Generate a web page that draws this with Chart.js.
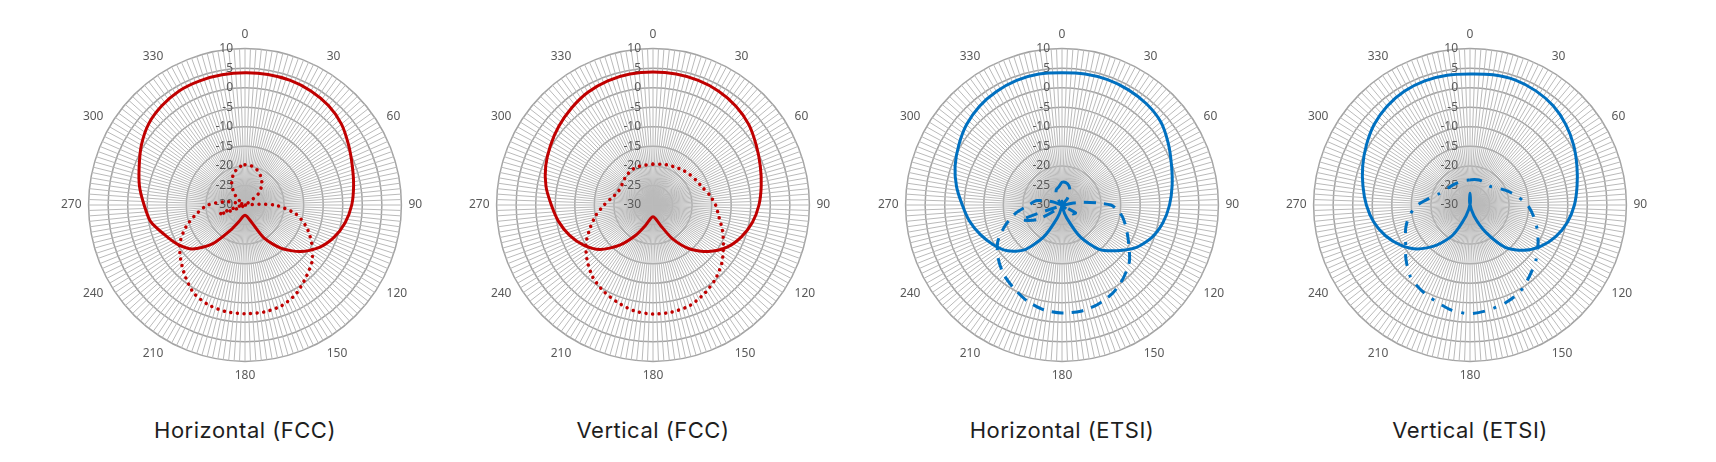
<!DOCTYPE html>
<html>
<head>
<meta charset="utf-8">
<script src="https://cdn.jsdelivr.net/npm/chart.js@4.4.1/dist/chart.umd.min.js"></script>
<style>
    html, body { margin: 0; padding: 0; background: #fff; }
    body { width: 1716px; height: 462px; position: relative; overflow: hidden; }
    .polar { position: absolute; width: 368px; height: 368px; }
    .titulo {
        position: absolute; width: 300px; text-align: center; top: 417px;
        font-family: "Inter", sans-serif; font-size: 22px; line-height: 26px; letter-spacing: 0.5px; color: #1e1e1e;
    }
</style>
</head>
<body>
<div class="polar" id="caja0"><canvas id="grafica0" width="368" height="368"></canvas></div>
<div class="polar" id="caja1"><canvas id="grafica1" width="368" height="368"></canvas></div>
<div class="polar" id="caja2"><canvas id="grafica2" width="368" height="368"></canvas></div>
<div class="polar" id="caja3"><canvas id="grafica3" width="368" height="368"></canvas></div>
<div class="titulo" id="titulo0"></div>
<div class="titulo" id="titulo1"></div>
<div class="titulo" id="titulo2"></div>
<div class="titulo" id="titulo3"></div>
<script>
// angles where the curves were read (degrees, clockwise from top)
const angulos = [0, 10, 20, 30, 40, 50, 60, 70, 80, 90, 100, 110, 120, 130, 140, 150, 160, 170,
    180, 190, 200, 210, 220, 230, 240, 250, 260, 270, 280, 290, 300, 310, 320, 330, 340, 350];
const etiquetasAngulo = [0, 30, 60, 90, 120, 150, 180, 210, 240, 270, 300, 330];
const ticksRadio = [10, 5, 0, -5, -10, -15, -20, -25, -30];
const titulos = ["Horizontal (FCC)", "Vertical (FCC)", "Horizontal (ETSI)", "Vertical (ETSI)"];

// #region Datos (dB)
const horizontalFcc = [3.8, 3.9, 3.9, 3.7, 3.2, 2.2, 0.6, -0.8, -1.8, -2.7, -4.0, -5.8, -8.2, -11.5, -15.5, -20.2, -25.5, -27,
    -27.4, -27, -25.5, -22.5, -17, -12.5, -10, -8, -5.5, -4.2, -2.6, -1.2, 0.6, 2.2, 3.1, 3.7, 3.8, 3.8];
const horizontalFccCruzada = [-19.7, -19.9, -20.6, -21.8, -23.3, -25.5, -30.5, -37, -31, -22.5, -16.8, -13.2, -10.3, -7.6, -5.8, -3.8, -2.6, -2.2,
    -2.2, -2.3, -2.8, -3.9, -6.2, -8.5, -10.8, -14, -17.5, -20.5, -25, -29, -29.5, -27.5, -25.3, -23.2, -21.5, -20.3];

const verticalFcc = [4.0, 4.0, 3.9, 3.6, 3.0, 2.0, 0.5, -0.8, -1.9, -2.9, -4.2, -6.0, -8.3, -11.5, -15.3, -20, -24.5, -26.5,
    -27, -26.5, -24.5, -21, -16.5, -12.3, -9.5, -7.3, -5.5, -4.0, -2.2, -0.8, 0.3, 1.4, 2.4, 3.3, 3.8, 4.0];
const verticalFccCruzada = [-19.6, -19.4, -19.1, -18.8, -18.3, -17.8, -17.3, -16.6, -15.3, -14.0, -12.9, -11.1, -9.2, -7.0, -5.2, -3.8, -2.6, -2.2,
    -2.1, -2.5, -3.5, -4.6, -6.0, -8.0, -10.2, -12.9, -15.2, -17.5, -19.3, -20.4, -20.6, -20.2, -19.8, -19.5, -19.5, -19.6];

const horizontalEtsi = [3.8, 4.0, 4.1, 4.0, 3.7, 3.0, 1.4, -0.2, -1.4, -2.5, -3.8, -5.6, -8.2, -11.8, -15.2, -20.5, -26.5, -29.5,
    -31, -29.5, -26.5, -20.5, -15, -11.8, -9.7, -7.8, -6.0, -4.5, -2.6, -0.9, 0.5, 1.9, 2.9, 3.5, 3.9, 4.0];
const horizontalEtsiCruzada = [-24.2, -24.2, -24.8, -26, -28, -31.5, -37.5, -41, -27, -17.5, -14.5, -12.5, -10.3, -7.5, -5.6, -4.0, -3.0, -2.4,
    -2.4, -2.8, -3.9, -5.4, -6.8, -8.7, -11.0, -14.5, -18, -21.5, -23.5, -28, -34, -33.5, -29.5, -27, -25.8, -25.3];

const verticalEtsi = [3.5, 3.8, 4.0, 3.7, 3.1, 2.0, 0.6, -0.9, -2.2, -3.3, -4.7, -6.6, -9.0, -12.0, -15.8, -22, -27, -30.5,
    -33, -30.5, -27, -21, -16.5, -12.5, -9.5, -7.0, -5.0, -3.5, -2.2, -0.8, 0.6, 2.0, 3.0, 3.6, 3.8, 3.7];
const verticalEtsiCruzada = [-23.6, -23.4, -23.2, -23.2, -23.2, -22.8, -21.5, -19.7, -17.6, -15.3, -13.5, -11.7, -9.9, -8.0, -6.3, -4.4, -3.4, -2.7,
    -2.2, -2.7, -3.9, -4.9, -6.2, -8.6, -11.0, -12.5, -14.2, -16.6, -19.6, -21.6, -22.5, -23.0, -23.3, -23.5, -23.6, -23.6];

const rojo = "#c00000";
const azul = "#0070c0";

// one category every 2 degrees, so the spokes are as dense as in the original
const grados = [];
for (let i = 0; i < 360; i += 2) {
    grados.push(i);
}

function porGrado(valores) {
    const serie = new Array(grados.length).fill(null);
    angulos.forEach((a, i) => { serie[grados.indexOf(a)] = valores[i]; });
    return serie;
}

// radial tick labels sit left of the vertical axis
const etiquetasRadio = {
    id: "etiquetasRadio",
    beforeDatasetsDraw(chart) {
        const r = chart.scales.r;
        const ctx = chart.ctx;
        ctx.save();
        ctx.font = '12px "Noto Sans", sans-serif';
        ctx.fillStyle = "#595959";
        ctx.textAlign = "right";
        ctx.textBaseline = "middle";
        ticksRadio.forEach(v => {
            ctx.fillText(String(v), r.xCenter - 12, r.yCenter - r.getDistanceFromCenterForValue(v));
        });
        ctx.restore();
    }
};

function crearGrafica(n, principal, cruzada, color, trazo, centroX) {
    const caja = document.getElementById("caja" + n);
    caja.style.left = (centroX - 187) + "px";
    caja.style.top = (205 - 184) + "px";
    const titulo = document.getElementById("titulo" + n);
    titulo.textContent = titulos[n];
    titulo.style.left = (centroX - 150) + "px";

    const ctx = document.getElementById("grafica" + n).getContext("2d");
    return new Chart(ctx, {
        type: "radar",
        data: {
            labels: grados,
            datasets: [
                {
                    data: porGrado(principal),
                    borderColor: color,
                    borderWidth: 3,
                    fill: false,
                    spanGaps: true,
                    tension: 0.25,
                    pointRadius: 0,
                },
                {
                    data: porGrado(cruzada),
                    borderColor: color,
                    borderWidth: trazo.ancho,
                    borderDash: trazo.dash,
                    borderCapStyle: trazo.cap,
                    fill: false,
                    spanGaps: true,
                    tension: 0.25,
                    pointRadius: 0,
                },
            ],
        },
        options: {
            responsive: false,
            animation: false,
            devicePixelRatio: 1,
            scales: {
                r: {
                    min: -30,
                    max: 10,
                    ticks: { stepSize: 5, display: false },
                    grid: { circular: true, color: "#a3a3a3", lineWidth: 1.5 },
                    angleLines: { color: "#bababa", lineWidth: 1 },
                    pointLabels: {
                        padding: 7,
                        color: "#595959",
                        font: { size: 12, family: '"Noto Sans", sans-serif' },
                        callback: (etiqueta) => etiquetasAngulo.includes(Number(etiqueta)) ? String(etiqueta) : ""
                    }
                }
            },
            plugins: {
                legend: { display: false },
                tooltip: { enabled: false }
            }
        },
        plugins: [etiquetasRadio]
    });
}

const puntos = { dash: [0.01, 6.6], cap: "round", ancho: 3.5 };
const guiones = { dash: [12, 8], cap: "butt", ancho: 3 };
const guionPunto = { dash: [12, 9, 3, 9], cap: "butt", ancho: 3 };

crearGrafica(0, horizontalFcc, horizontalFccCruzada, rojo, puntos, 245);
crearGrafica(1, verticalFcc, verticalFccCruzada, rojo, puntos, 653);
crearGrafica(2, horizontalEtsi, horizontalEtsiCruzada, azul, guiones, 1062);
crearGrafica(3, verticalEtsi, verticalEtsiCruzada, azul, guionPunto, 1470);
</script>
</body>
</html>
